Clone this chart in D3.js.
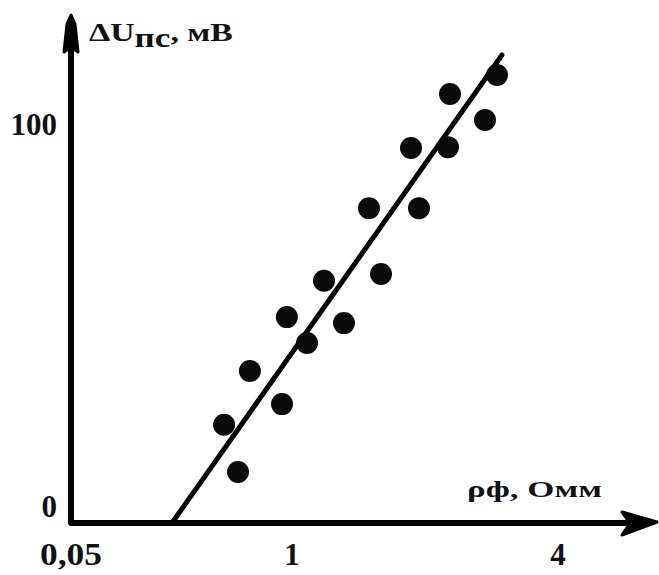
<!DOCTYPE html>
<html>
<head>
<meta charset="utf-8">
<script src="https://cdn.jsdelivr.net/npm/d3@7"></script>
<style>
  html, body { margin: 0; padding: 0; background: #fff; }
  text { font-family: "Liberation Serif", "Times New Roman", serif; font-weight: bold; fill: #111; }
</style>
</head>
<body>
<div id="chart"></div>
<script>
// measured points: resistivity (Ohm·m) vs SP anomaly (mV)
const rho = [0.708, 0.768, 0.819, 0.957, 0.978, 1.169, 1.361, 1.586, 1.868, 2.004, 2.342, 2.432, 2.759, 2.782, 3.177, 3.312];
const dU  = [24.6, 12.8, 38.1, 29.8, 51.6, 45.1, 60.7, 50.1, 78.9, 62.4, 94.0, 78.9, 94.2, 107.5, 101.0, 112.3];

// fitted trend line, two end points
const trendRho = [0.484, 3.368];
const trendDU  = [0, 117.3];

const xTicks = [0.05, 1, 4];
const xTickLabels = ["0,05", "1", "4"];
const yTicks = [0, 100];
const yTickLabels = ["0", "100"];

const width = 659, height = 575;

const svg = d3.select("#chart")
    .append("svg")
    .attr("width", width)
    .attr("height", height);

// hand drawn axis: not uniform, so piecewise linear
const x = d3.scaleLinear()
    .domain([0.05, 1, 4])
    .range([71, 292, 558]);

const y = d3.scaleLinear()
    .domain([0, 100])
    .range([523, 124]);

const x0 = x(0.05), y0 = y(0);

// stretch a text node horizontally to a wanted width
function fitWidth(sel, w) {
    sel.each(function() {
        let node = this;
        let len = node.getComputedTextLength();
        let bx = +node.getAttribute("x") || 0;
        let k = w / len;
        d3.select(node).attr("transform", `translate(${bx},0) scale(${k},1) translate(${-bx},0)`);
    });
}

// axes
svg.append("path")
    .attr("d", `M${x0},${50} L${x0},${y0} L${625},${y0}`)
    .attr("fill", "none")
    .attr("stroke", "#000")
    .attr("stroke-width", 6)
    .attr("stroke-linejoin", "round")
    .attr("stroke-linecap", "round");

// arrow heads
svg.append("path")
    .attr("d", `M${x0},15 L${x0 + 4},24 L${x0 + 7},52 L${x0},47 L${x0 - 7},52 L${x0 - 4},24 Z`)
    .attr("fill", "#000")
    .attr("stroke", "#000")
    .attr("stroke-width", 3)
    .attr("stroke-linejoin", "round");

svg.append("path")
    .attr("d", `M657,${y0 - 1} L622,${y0 - 11} L630,${y0} L622,${y0 + 12} Z`)
    .attr("fill", "#000")
    .attr("stroke", "#000")
    .attr("stroke-width", 3)
    .attr("stroke-linejoin", "round");

// tick labels
svg.selectAll(".x-tick")
    .data(xTicks)
    .enter()
    .append("text")
    .attr("class", "x-tick")
    .attr("x", d => x(d))
    .attr("y", 565)
    .attr("text-anchor", "middle")
    .style("font-size", "31px")
    .text((d, i) => xTickLabels[i]);

fitWidth(svg.selectAll(".x-tick").filter(d => d === 0.05), 62);

svg.selectAll(".y-tick")
    .data(yTicks)
    .enter()
    .append("text")
    .attr("class", "y-tick")
    .attr("x", 57)
    .attr("y", d => y(d) + (d === 0 ? -6 : 11))
    .attr("text-anchor", "end")
    .style("font-size", "31px")
    .text((d, i) => yTickLabels[i]);

// axis titles
let yTitle = svg.append("text")
    .attr("x", 89)
    .attr("y", 41)
    .style("font-size", "26px");
yTitle.append("tspan").text("ΔU");
yTitle.append("tspan").attr("dy", 6).style("font-size", "27px").text("пс");
yTitle.append("tspan").attr("dy", -6).text(", мВ");
fitWidth(yTitle, 144);

let xTitle = svg.append("text")
    .attr("x", 467)
    .attr("y", 497)
    .style("font-size", "24px")
    .text("ρф, Омм");
fitWidth(xTitle, 135);

// trend line
const line = d3.line()
    .x(d => x(d[0]))
    .y(d => y(d[1]));

svg.append("path")
    .datum(d3.zip(trendRho, trendDU))
    .attr("d", line)
    .attr("fill", "none")
    .attr("stroke", "#000")
    .attr("stroke-width", 5)
    .attr("stroke-linecap", "round");

// dots
svg.selectAll(".dot")
    .data(d3.zip(rho, dU))
    .enter()
    .append("circle")
    .attr("class", "dot")
    .attr("cx", d => x(d[0]))
    .attr("cy", d => y(d[1]))
    .attr("r", 11)
    .attr("fill", "#0a0a0a");
</script>
</body>
</html>
